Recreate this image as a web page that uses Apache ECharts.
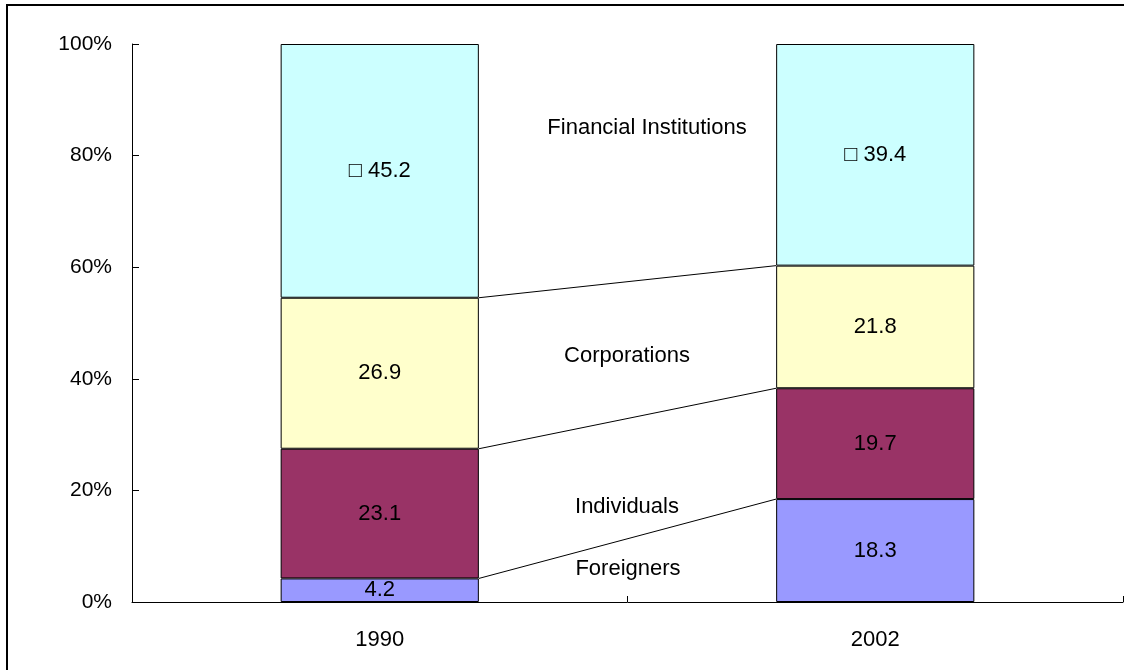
<!DOCTYPE html>
<html>
<head>
<meta charset="utf-8">
<title>Shareholders 1990 / 2002</title>
<script src="https://cdn.jsdelivr.net/npm/echarts@6/dist/echarts.min.js"></script>
<style>
  html, body { margin: 0; padding: 0; background: #fff; }
  #chart { width: 1133px; height: 670px; }
</style>
</head>
<body>
<div id="chart"></div>
<script>
const years = ['1990', '2002']
const seriesNames = ['Foreigners', 'Individuals', 'Corporations', 'Financial Institutions']
const foreigners = [4.2, 18.3]
const individuals = [23.1, 19.7]
const corporations = [26.9, 21.8]
const financial = [45.2, 39.4]
const yTicks = [0, 20, 40, 60, 80, 100]

const colors = ['#9999FF', '#993366', '#FFFFCC', '#CCFFFF']
const font = '"Liberation Sans", Arial, sans-serif'

const raw = [foreigners, individuals, corporations, financial]
// the bars are 100% stacks, so each year is scaled by its total
const totals = years.map((_, i) => raw.reduce((s, arr) => s + arr[i], 0))
const pct = raw.map(arr => arr.map((v, i) => v / totals[i] * 100))

// cumulative top of each lower segment, for the connector lines
const tops = []
for (let k = 0; k < raw.length - 1; k++) {
  tops.push([0].concat(years.map((_, i) => {
    let s = 0
    for (let j = 0; j <= k; j++) s += pct[j][i]
    return s
  })))
}

const barSeries = seriesNames.map((name, k) => ({
  name: name,
  type: 'bar',
  stack: 'total',
  barWidth: '40%',
  data: pct[k],
  itemStyle: {
    color: colors[k],
    borderColor: '#000',
    borderWidth: 1
  },
  label: {
    show: true,
    position: 'inside',
    color: '#000',
    fontFamily: font,
    fontSize: 22,
    formatter: p => (k === 3 ? '\u25A1 ' : '') + raw[k][p.dataIndex].toFixed(1)
  }
}))

const connectors = {
  type: 'custom',
  coordinateSystem: 'cartesian2d',
  encode: { x: 0, y: [1, 2] },
  data: tops,
  z: 1,
  renderItem: (params, api) => {
    const a = api.coord([0, api.value(1)])
    const b = api.coord([1, api.value(2)])
    const half = api.size([1, 0])[0] * 0.2
    return {
      type: 'line',
      shape: { x1: a[0] + half, y1: a[1], x2: b[0] - half, y2: b[1] },
      style: { stroke: '#000', lineWidth: 1 }
    }
  }
}

const gapLabels = [
  { text: 'Financial Institutions', x: 647, y: 128 },
  { text: 'Corporations', x: 627, y: 356 },
  { text: 'Individuals', x: 627, y: 507 },
  { text: 'Foreigners', x: 628, y: 569 }
]

const chart = echarts.init(document.getElementById('chart'), null, { renderer: 'canvas' })

chart.setOption({
  animation: false,
  backgroundColor: '#fff',
  grid: { left: 132, right: 10, top: 44, bottom: 68 },
  xAxis: {
    type: 'category',
    data: years,
    axisLine: { lineStyle: { color: '#000', width: 1 } },
    axisTick: { show: true, inside: true, length: 6, lineStyle: { color: '#000' } },
    axisLabel: { color: '#000', fontFamily: font, fontSize: 22, margin: 27 },
    splitLine: { show: false }
  },
  yAxis: {
    type: 'value',
    min: 0,
    max: 100,
    interval: 20,
    axisLine: { show: true, lineStyle: { color: '#000', width: 1 } },
    axisTick: { show: true, inside: true, length: 7, lineStyle: { color: '#000' } },
    axisLabel: {
      color: '#000',
      fontFamily: font,
      fontSize: 21,
      margin: 20,
      formatter: v => (yTicks.indexOf(v) >= 0 ? v + '%' : '')
    },
    splitLine: { show: false }
  },
  series: barSeries.concat([connectors]),
  graphic: [
    { type: 'line', shape: { x1: 6, y1: 5, x2: 1124, y2: 5 }, style: { stroke: '#000', lineWidth: 2 } },
    { type: 'line', shape: { x1: 7, y1: 5, x2: 7, y2: 670 }, style: { stroke: '#000', lineWidth: 2 } }
  ].concat(gapLabels.map(g => ({
    type: 'text',
    x: g.x,
    y: g.y,
    style: {
      text: g.text,
      fill: '#000',
      font: '22px ' + font,
      align: 'center',
      verticalAlign: 'middle'
    }
  })))
})

window.addEventListener('resize', () => chart.resize())
</script>
</body>
</html>
